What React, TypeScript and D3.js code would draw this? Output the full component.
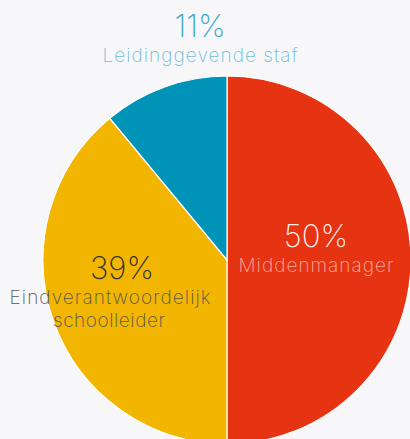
import { useEffect, useRef } from 'react';
import * as d3 from 'd3';

const categories = ['Middenmanager', 'Eindverantwoordelijk schoolleider', 'Leidinggevende staf'];
const values = [50, 39, 11];
const percentLabels = ['50%', '39%', '11%'];
const colors = ['#e63312', '#f3b600', '#0093b8'];

const W = 410;
const H = 439;

const App = () => {
    const svgRef = useRef<SVGSVGElement>(null);

    useEffect(() => {
        const root = d3.select(svgRef.current);
        root.selectAll('*').remove();

        const cx = 227;
        const cy = 260;
        const radius = 184;

        root.append('rect').attr('width', W).attr('height', H).attr('fill', '#f7f7f9');

        const g = root.append('g').attr('transform', `translate(${cx},${cy})`);

        const data = categories.map((c, i) => ({ name: c, value: values[i], pct: percentLabels[i], color: colors[i] }));

        const pie = d3.pie<any>().sort(null).value((d) => d.value);
        const arc = d3.arc<any>().innerRadius(0).outerRadius(radius);

        g.selectAll('path')
            .data(pie(data))
            .enter()
            .append('path')
            .attr('d', arc)
            .attr('fill', (d) => d.data.color)
            .attr('stroke', '#ffffff')
            .attr('stroke-width', 1.2);

        const labelPos = [
            { x: 89, y: -13, pctColor: 'rgba(255,255,255,0.92)', txtColor: 'rgba(255,255,255,0.6)', lines: ['Middenmanager'], dx: [0], len: [155] },
            { x: -105, y: 19, pctColor: '#333333', txtColor: '#555555', lines: ['Eindverantwoordelijk', 'schoolleider'], dx: [-12, -13], len: [201, 112] },
            { x: -27, y: -223, pctColor: '#3aa9c8', txtColor: '#6cc0d8', lines: ['Leidinggevende staf'], dx: [0], len: [195] },
        ];

        const font = 'Inter, sans-serif';

        labelPos.forEach((p, i) => {
            g.append('text')
                .attr('x', p.x)
                .attr('y', p.y)
                .attr('text-anchor', 'middle')
                .attr('font-family', font)
                .attr('font-weight', 200)
                .attr('font-size', 31)
                .attr('fill', p.pctColor)
                .text(percentLabels[i]);
            p.lines.forEach((line, j) => {
                g.append('text')
                    .attr('x', p.x + p.dx[j])
                    .attr('y', p.y + 25 + j * 23)
                    .attr('text-anchor', 'middle')
                    .attr('font-family', font)
                    .attr('font-weight', 250)
                    .attr('font-size', 19)
                    .attr('textLength', p.len[j])
                    .attr('lengthAdjust', 'spacing')
                    .attr('fill', p.txtColor)
                    .text(line);
            });
        });
    }, []);

    return (
        <svg
            ref={svgRef}
            width={W}
            height={H}
            style={{ position: 'absolute', left: 0, top: 0, display: 'block' }}
        />
    );
};

export default App;
